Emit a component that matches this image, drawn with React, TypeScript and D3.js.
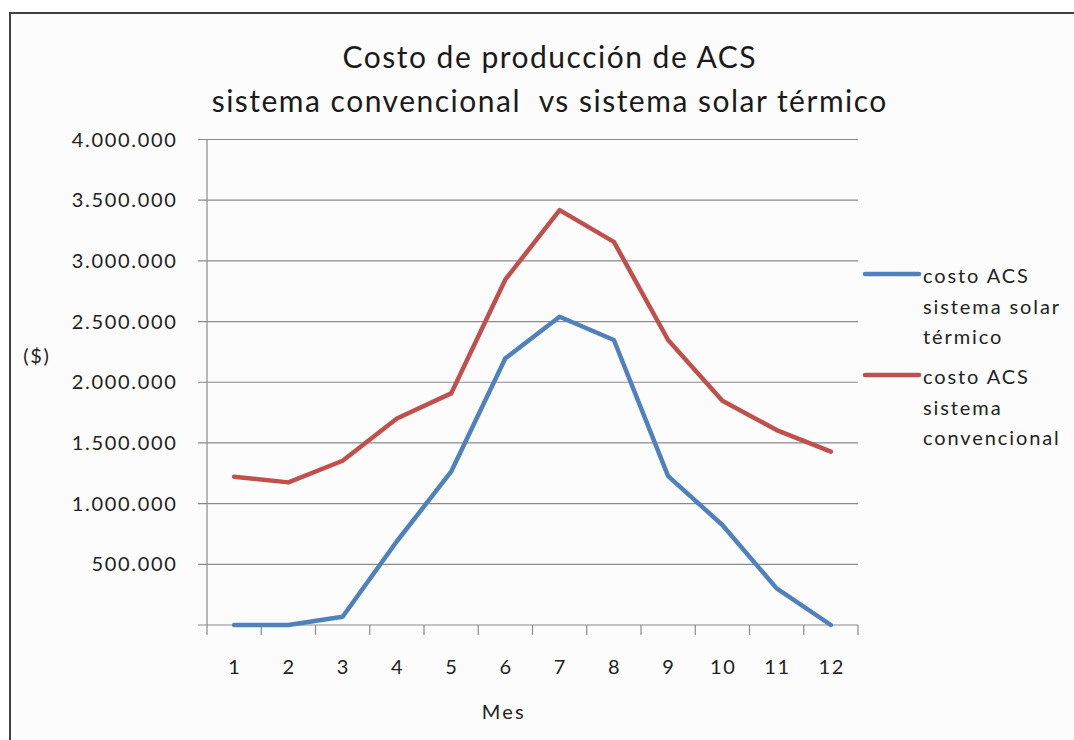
import React from "react";
import * as d3 from "d3";

const months = ["1", "2", "3", "4", "5", "6", "7", "8", "9", "10", "11", "12"];
const solarCost = [0, 0, 68000, 690000, 1263000, 2197000, 2540000, 2348000, 1227000, 824000, 302000, 0];
const conventionalCost = [1222000, 1175000, 1353000, 1702000, 1908000, 2847000, 3418000, 3157000, 2348000, 1848000, 1606000, 1428000];
const yTicks = [0, 500000, 1000000, 1500000, 2000000, 2500000, 3000000, 3500000, 4000000];
const seriesNames = [
  ["costo ACS", "sistema solar", "térmico"],
  ["costo ACS", "sistema", "convencional"],
];
const titleLines = ["Costo de producción de ACS", "sistema convencional  vs sistema solar térmico"];

const W = 1074;
const H = 740;
const plot = { left: 207, right: 858, top: 139.5, bottom: 625 };
const FONT = "Lato, 'Open Sans', sans-serif";
const BLUE = "#4F81BD";
const RED = "#C0504D";
const GRID = "#8a8a8a";
const LS = 1.7; // letter spacing for the 20px labels

const fmt = (v: number) => (v === 0 ? "" : d3.format(",")(v).replace(/,/g, "."));

export default function App() {
  const x = d3.scaleBand<string>().domain(months).range([plot.left, plot.right]);
  const y = d3.scaleLinear().domain([0, 4000000]).range([plot.bottom, plot.top]);
  const cx = (m: string) => (x(m) as number) + x.bandwidth() / 2;
  const line = d3
    .line<number>()
    .x((_, i) => cx(months[i]))
    .y((v) => y(v));

  const series = [
    { values: solarCost, color: BLUE, name: seriesNames[0], ly: 274 },
    { values: conventionalCost, color: RED, name: seriesNames[1], ly: 375 },
  ];

  const tickBounds = [...months.map((m) => x(m) as number), plot.right];

  return (
    <svg
      width={W}
      height={H}
      style={{ position: "absolute", left: 0, top: 0, background: "#fff" }}
      fontFamily={FONT}
    >
      <rect x={10} y={13} width={W + 20} height={H + 20} fill="#fcfcfc" stroke="#404040" strokeWidth={2} />

      {titleLines.map((t, i) => (
        <text
          key={i}
          x={549 + 0.75}
          y={68 + i * 44}
          textAnchor="middle"
          fontSize={30}
          letterSpacing={1.5}
          fill="#1a1a1a"
          style={{ whiteSpace: "pre" }}
        >
          {t}
        </text>
      ))}

      {/* horizontal gridlines and y-axis labels */}
      {yTicks.map((v) => (
        <g key={v}>
          <line x1={plot.left - 9} x2={plot.right} y1={y(v)} y2={y(v)} stroke={GRID} strokeWidth={1.2} />
          <text x={176 + LS} y={y(v)} dy="0.35em" textAnchor="end" fontSize={20} letterSpacing={LS} fill="#222">
            {fmt(v)}
          </text>
        </g>
      ))}

      {/* axes */}
      <line x1={plot.left} x2={plot.left} y1={plot.top} y2={plot.bottom} stroke={GRID} strokeWidth={1.2} />
      {tickBounds.map((tx, i) => (
        <line key={i} x1={tx} x2={tx} y1={plot.bottom} y2={plot.bottom + 10} stroke={GRID} strokeWidth={1.2} />
      ))}
      {months.map((m) => (
        <text key={m} x={cx(m) + LS / 2} y={667} dy="0.35em" textAnchor="middle" fontSize={20} letterSpacing={LS} fill="#222">
          {m}
        </text>
      ))}

      <text x={503 + LS / 2} y={712} dy="0.35em" textAnchor="middle" fontSize={20} letterSpacing={2.2} fill="#222">
        Mes
      </text>
      <text x={36 + LS / 2} y={356} dy="0.35em" textAnchor="middle" fontSize={20} letterSpacing={LS} fill="#222">
        ($)
      </text>

      {/* data lines */}
      {series.map((s, i) => (
        <path
          key={i}
          d={line(s.values) || ""}
          fill="none"
          stroke={s.color}
          strokeWidth={4.5}
          strokeLinejoin="round"
          strokeLinecap="round"
        />
      ))}

      {/* legend */}
      {series.map((s, i) => (
        <g key={i}>
          <line x1={865} x2={919} y1={s.ly} y2={s.ly} stroke={s.color} strokeWidth={4.5} strokeLinecap="round" />
          {s.name.map((t, j) => (
            <text key={j} x={923} y={s.ly + 2 + j * 30.5} dy="0.35em" fontSize={20} letterSpacing={1.9} fill="#222">
              {t}
            </text>
          ))}
        </g>
      ))}
    </svg>
  );
}
